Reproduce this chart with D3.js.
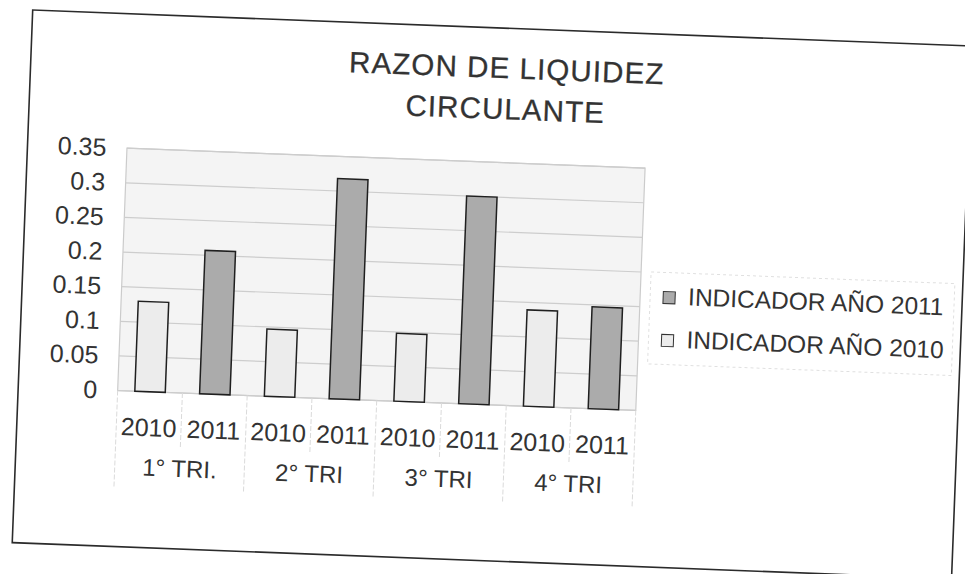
<!DOCTYPE html>
<html>
<head>
<meta charset="utf-8">
<script src="https://cdn.jsdelivr.net/npm/d3@7"></script>
<style>
  body { margin: 0; background: #fff; }
  svg text { font-family: "Liberation Sans", Arial, sans-serif; fill: #333; }
</style>
</head>
<body>
<svg id="chart" width="965" height="574"></svg>
<script>
// Quarterly current-ratio indicator, 2010 vs 2011
const quarters = ["1° TRI.", "2° TRI", "3° TRI", "4° TRI"];
const years = ["2010", "2011"];
const values2010 = [0.13, 0.097, 0.098, 0.139];
const values2011 = [0.207, 0.318, 0.30, 0.147];
const yTicks = [0, 0.05, 0.1, 0.15, 0.2, 0.25, 0.3, 0.35];
const yTickLabels = ["0", "0.05", "0.1", "0.15", "0.2", "0.25", "0.3", "0.35"];
const titleLines = ["RAZON DE LIQUIDEZ", "CIRCULANTE"];
const legendLabels = ["INDICADOR AÑO 2011", "INDICADOR AÑO 2010"];

const fills = { "2010": "#ececec", "2011": "#ababab" };

// one row per bar: quarter × year
const rows = [];
quarters.forEach((q, i) => {
  rows.push({ quarter: q, year: "2010", value: values2010[i], key: q + "|2010" });
  rows.push({ quarter: q, year: "2011", value: values2011[i], key: q + "|2011" });
});

const W = 940, H = 533;
const plot = { left: 99.5, right: 618, top: 134.5, bottom: 377 };

const svg = d3.select("#chart");
// the printed sheet sits slightly tilted on the page
const g = svg.append("g").attr("transform", "translate(32.7,10) rotate(2.2)");

g.append("rect")
  .attr("x", 0).attr("y", 0).attr("width", W).attr("height", H)
  .attr("fill", "#fff").attr("stroke", "#2b2b2b").attr("stroke-width", 1.6);

const x = d3.scaleBand().domain(rows.map(d => d.key)).range([plot.left, plot.right]).padding(0);
const xq = d3.scaleBand().domain(quarters).range([plot.left, plot.right]).padding(0);
const y = d3.scaleLinear().domain([0, 0.35]).range([plot.bottom, plot.top]);

// plot background
g.append("rect")
  .attr("x", plot.left).attr("y", plot.top)
  .attr("width", plot.right - plot.left).attr("height", plot.bottom - plot.top)
  .attr("fill", "#f4f4f4").attr("stroke", "#cbcbcb").attr("stroke-width", 1.2);

// horizontal gridlines
g.append("g").selectAll("line").data(yTicks).join("line")
  .attr("x1", plot.left).attr("x2", plot.right)
  .attr("y1", d => y(d)).attr("y2", d => y(d))
  .attr("stroke", "#cdcdcd").attr("stroke-width", 1.2);

// category separators below the axis: short between years, long between quarters
const boundaries = d3.range(rows.length + 1);
g.append("g").selectAll("line").data(boundaries).join("line")
  .attr("x1", i => i < rows.length ? x(rows[i].key) : plot.right)
  .attr("x2", i => i < rows.length ? x(rows[i].key) : plot.right)
  .attr("y1", plot.bottom)
  .attr("y2", i => (i % 2 === 0) ? 474 : 432)
  .attr("stroke", "#dadada").attr("stroke-width", 1)
  .attr("stroke-dasharray", "5,2");

// bars
const bw = x.bandwidth() * 0.47;
g.append("g").selectAll("rect").data(rows).join("rect")
  .attr("x", d => x(d.key) + (x.bandwidth() - bw) / 2)
  .attr("y", d => y(d.value))
  .attr("width", bw)
  .attr("height", d => y(0) - y(d.value))
  .attr("fill", d => fills[d.year])
  .attr("stroke", "#1f1f1f").attr("stroke-width", 1.5);

// value axis
const yAxis = g.append("g")
  .attr("transform", `translate(${plot.left},0)`)
  .call(d3.axisLeft(y).tickValues(yTicks).tickFormat((d, i) => yTickLabels[i]).tickSize(0).tickPadding(20.5));
yAxis.select(".domain").remove();
yAxis.selectAll("text").attr("font-size", 25).attr("font-family", null).style("fill", "#333");

// year labels (inner category level)
const xAxis = g.append("g")
  .attr("transform", `translate(0,${plot.bottom})`)
  .call(d3.axisBottom(x).tickFormat(k => k.split("|")[1]).tickSize(0).tickPadding(26.7));
xAxis.select(".domain").remove();
xAxis.selectAll("text").attr("font-size", 25).attr("font-family", null).style("fill", "#333");

// quarter labels (outer category level)
g.append("g").selectAll("text").data(quarters).join("text")
  .attr("x", d => xq(d) + xq.bandwidth() / 2)
  .attr("y", 461)
  .attr("text-anchor", "middle")
  .attr("font-size", 24)
  .text(d => d);

// title
g.append("g").selectAll("text").data(titleLines).join("text")
  .attr("x", 476)
  .attr("y", (d, i) => 50 + i * 41)
  .attr("text-anchor", "middle")
  .attr("font-size", 29.5)
  .attr("letter-spacing", 1.1)
  .style("fill", "#333")
  .style("stroke", "#333").style("stroke-width", 0.3)
  .text(d => d);

// legend
const legend = g.append("g");
legend.append("rect")
  .attr("x", 628).attr("y", 238).attr("width", 304).attr("height", 92)
  .attr("fill", "none").attr("stroke", "#e0e0e0").attr("stroke-width", 1)
  .attr("stroke-dasharray", "3,3");
const legendYears = ["2011", "2010"];
const items = legend.selectAll("g.item").data(legendLabels).join("g")
  .attr("class", "item")
  .attr("transform", (d, i) => `translate(641,${257 + i * 43})`);
items.append("rect")
  .attr("width", 12).attr("height", 12)
  .attr("fill", (d, i) => fills[legendYears[i]])
  .attr("stroke", "#333").attr("stroke-width", 1);
items.append("text")
  .attr("x", 25).attr("y", 13)
  .attr("font-size", 24.5)
  .text(d => d);
</script>
</body>
</html>
